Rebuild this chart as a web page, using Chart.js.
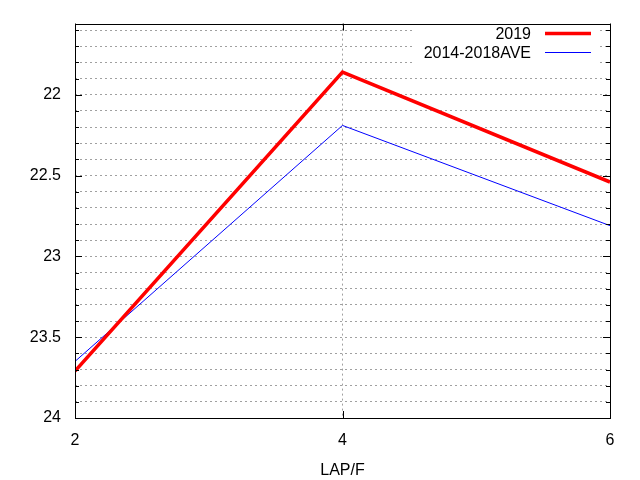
<!DOCTYPE html>
<html>
<head>
<meta charset="utf-8">
<script src="https://cdn.jsdelivr.net/npm/chart.js@4.4.1/dist/chart.umd.min.js"></script>
<style>
html,body{margin:0;padding:0;background:#fff;}
#wrap{width:640px;height:480px;position:relative;}
</style>
</head>
<body>
<div id="wrap"><canvas id="c" width="640" height="480"></canvas></div>
<script>
const lapX = [2, 4, 6];
const series2019 = [23.71, 21.86, 22.54];
const seriesAve = [23.65, 22.19, 22.81];
const seriesLabels = ['2019', '2014-2018AVE'];
const yTickLabels = ['22', '22.5', '23', '23.5', '24'];
const xTickLabels = ['2', '4', '6'];
const xTitle = 'LAP/F';

const FONT = 'Liberation Sans, Arial, sans-serif';

const yMinorTicks = [];
for (let i = 216; i <= 240; i++) yMinorTicks.push(i / 10);

const gnuplotDeco = {
  id: 'gnuplotDeco',
  afterDatasetsDraw(chart) {
    const ctx = chart.ctx;
    const a = chart.chartArea;
    const xs = chart.scales.x, ys = chart.scales.y;
    ctx.save();
    ctx.strokeStyle = '#000';
    ctx.lineWidth = 1;
    ctx.beginPath();
    yMinorTicks.forEach(v => {
      const y = Math.round(ys.getPixelForValue(v)) + 0.5;
      const major = yTickLabels.includes(String(+v.toFixed(1)));
      const len = major ? 7 : 4;
      ctx.moveTo(a.left, y); ctx.lineTo(a.left + len, y);
      ctx.moveTo(a.right, y); ctx.lineTo(a.right - len, y);
    });
    xTickLabels.forEach(t => {
      const x = Math.round(xs.getPixelForValue(+t)) + 0.5;
      ctx.moveTo(x, a.bottom); ctx.lineTo(x, a.bottom - 7);
      ctx.moveTo(x, a.top); ctx.lineTo(x, a.top + 7);
    });
    ctx.stroke();
    ctx.fillStyle = '#fff';
    ctx.fillRect(413, a.top + 1, 186, 46);
    ctx.font = '16px ' + FONT;
    ctx.textAlign = 'right';
    ctx.textBaseline = 'middle';
    const rows = [33.5, 52.5];
    chart.data.datasets.forEach((ds, i) => {
      ctx.fillStyle = '#000';
      ctx.fillText(ds.label, 531, rows[i] + 1);
      ctx.strokeStyle = ds.borderColor;
      ctx.lineWidth = ds.borderWidth;
      ctx.beginPath();
      ctx.moveTo(545, rows[i]); ctx.lineTo(591, rows[i]);
      ctx.stroke();
    });
    ctx.strokeStyle = '#000';
    ctx.lineWidth = 1;
    ctx.strokeRect(Math.round(a.left) + 0.5, Math.round(a.top) + 0.5, Math.round(a.right - a.left), Math.round(a.bottom - a.top));
    ctx.restore();
  }
};

new Chart(document.getElementById('c'), {
  type: 'line',
  data: {
    datasets: [
      {
        label: seriesLabels[0],
        data: lapX.map((x, i) => ({x: x, y: series2019[i]})),
        borderColor: '#ff0000',
        borderWidth: 3.5,
        pointRadius: 0,
        tension: 0,
        fill: false
      },
      {
        label: seriesLabels[1],
        data: lapX.map((x, i) => ({x: x, y: seriesAve[i]})),
        borderColor: '#0000ff',
        borderWidth: 1,
        pointRadius: 0,
        tension: 0,
        fill: false
      }
    ]
  },
  options: {
    responsive: false,
    animation: false,
    devicePixelRatio: 1,
    layout: { padding: { top: 19, right: 30, left: 0, bottom: 0 } },
    plugins: { legend: { display: false }, tooltip: { enabled: false } },
    scales: {
      x: {
        type: 'linear',
        min: 2, max: 6,
        afterBuildTicks: (s) => { s.ticks = xTickLabels.map(t => ({value: +t})); },
        ticks: { color: '#000', font: { family: FONT, size: 16 }, padding: 13, maxRotation: 0,
          callback: (v) => String(v) },
        grid: { color: '#a0a0a0', lineWidth: 1, drawTicks: false, tickLength: 0 },
        border: { display: false, dash: [2, 3] },
        title: { display: true, text: xTitle, color: '#000', font: { family: FONT, size: 16 }, padding: { top: 0, bottom: 0 } },
        afterFit: (s) => { s.height = 62; }
      },
      y: {
        type: 'linear',
        reverse: true,
        min: 21.56, max: 24,
        afterBuildTicks: (s) => { s.ticks = yMinorTicks.map(v => ({value: v})); },
        ticks: { color: '#000', font: { family: FONT, size: 16 }, padding: 14, autoSkip: false,
          callback: (v) => { const s = String(+(+v).toFixed(1)); return yTickLabels.includes(s) ? s : ''; } },
        grid: { color: '#a0a0a0', lineWidth: 1, drawTicks: false, tickLength: 0 },
        border: { display: false, dash: [2, 3] },
        afterFit: (s) => { s.width = 75; }
      }
    }
  },
  plugins: [gnuplotDeco]
});
</script>
</body>
</html>
